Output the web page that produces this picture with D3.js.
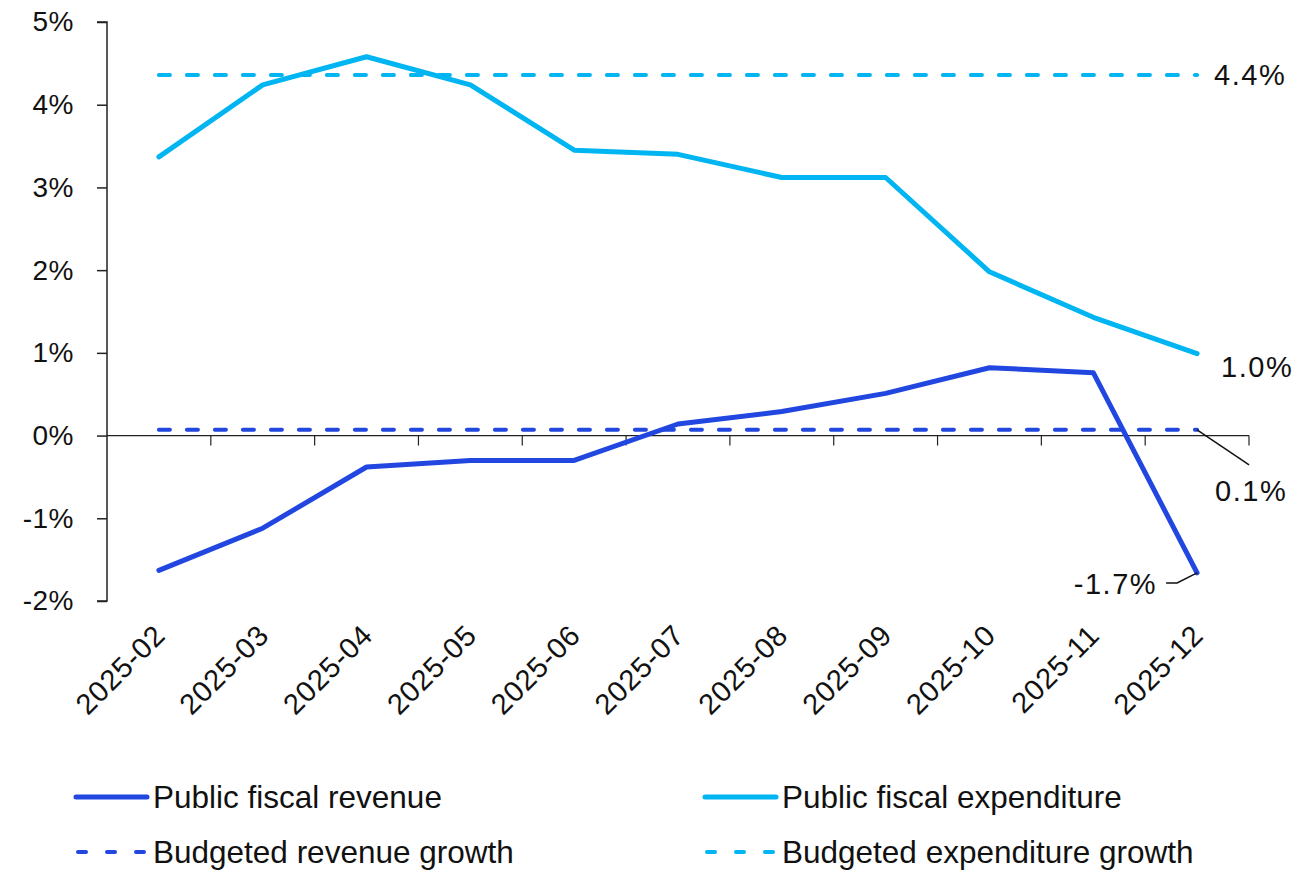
<!DOCTYPE html>
<html>
<head>
<meta charset="utf-8">
<script src="https://cdn.jsdelivr.net/npm/d3@7"></script>
<style>
  html, body { margin: 0; padding: 0; background: #fff; }
  svg { display: block; font-family: "Liberation Sans", Arial, sans-serif; }
</style>
</head>
<body>
<svg id="chart" width="1293" height="870"></svg>
<script>
// Monthly cumulative growth, % year on year
const months = ["2025-02","2025-03","2025-04","2025-05","2025-06","2025-07","2025-08","2025-09","2025-10","2025-11","2025-12"];
const revenue = [-1.63, -1.12, -0.38, -0.30, -0.30, 0.14, 0.29, 0.51, 0.82, 0.76, -1.66];
const expenditure = [3.37, 4.24, 4.58, 4.24, 3.45, 3.40, 3.12, 3.12, 1.98, 1.43, 0.99];
const budgetRevenue = 0.07;
const budgetExpenditure = 4.36;
const yTicks = [-2, -1, 0, 1, 2, 3, 4, 5];
const legendLabels = ["Public fiscal revenue", "Public fiscal expenditure", "Budgeted revenue growth", "Budgeted expenditure growth"];

const colRevenue = "#2147E0";
const colExpenditure = "#00B5F1";
const axisColor = "#222";
const textColor = "#111";

const svg = d3.select("#chart");
const plotLeft = 107, plotRight = 1249, plotTop = 22, plotBottom = 601;

const x = d3.scaleBand().domain(months).range([plotLeft, plotRight]);
const xc = d => x(d) + x.bandwidth() / 2;
const y = d3.scaleLinear().domain([-2, 5]).range([plotBottom, plotTop]);

// Y axis
const yAxis = svg.append("g")
  .attr("transform", `translate(${plotLeft},0)`)
  .call(d3.axisLeft(y).tickValues(yTicks).tickSize(10).tickPadding(23).tickFormat(d => d + "%"));
yAxis.select(".domain").attr("stroke", axisColor).attr("stroke-width", 1.5).attr("d", `M-10,${y(5)}H0V${y(-2)}H-10`);
yAxis.selectAll(".tick line").attr("stroke", axisColor).attr("stroke-width", 1.5);
yAxis.selectAll(".tick text").attr("fill", textColor).style("font-size", "28px").style("letter-spacing", "0.5px")
  .attr("font-family", "Liberation Sans, Arial, sans-serif");

// X axis along the zero line, ticks between categories
const xAxisG = svg.append("g").attr("transform", `translate(0,${y(0)})`);
xAxisG.append("line").attr("x1", plotLeft).attr("x2", plotRight).attr("stroke", axisColor).attr("stroke-width", 1.2);
xAxisG.selectAll("line.tk").data(months).join("line").attr("class", "tk")
  .attr("x1", d => x(d) + x.bandwidth()).attr("x2", d => x(d) + x.bandwidth())
  .attr("y1", 0).attr("y2", 10).attr("stroke", axisColor).attr("stroke-width", 1.2);

// Rotated month labels below the plot
svg.append("g").selectAll("text").data(months).join("text")
  .attr("transform", d => `translate(${xc(d) + 8},${plotBottom + 36}) rotate(-45)`)
  .attr("text-anchor", "end")
  .attr("fill", textColor)
  .style("font-size", "29px")
  .style("letter-spacing", "0.8px")
  .text(d => d);

// Budget lines
const dash = "11,17";
svg.append("line")
  .attr("x1", xc(months[0])).attr("x2", xc(months[months.length - 1]))
  .attr("y1", y(budgetExpenditure)).attr("y2", y(budgetExpenditure))
  .attr("stroke", colExpenditure).attr("stroke-width", 4).attr("stroke-linecap", "round").attr("stroke-dasharray", dash);
svg.append("line")
  .attr("x1", xc(months[0])).attr("x2", xc(months[months.length - 1]))
  .attr("y1", y(budgetRevenue)).attr("y2", y(budgetRevenue))
  .attr("stroke", colRevenue).attr("stroke-width", 4).attr("stroke-linecap", "round").attr("stroke-dasharray", dash);

// Actual series
const line = d3.line().x((d, i) => xc(months[i])).y(d => y(d));
svg.append("path").datum(expenditure).attr("d", line)
  .attr("fill", "none").attr("stroke", colExpenditure).attr("stroke-width", 5).attr("stroke-linejoin", "round").attr("stroke-linecap", "round");
svg.append("path").datum(revenue).attr("d", line)
  .attr("fill", "none").attr("stroke", colRevenue).attr("stroke-width", 5).attr("stroke-linejoin", "round").attr("stroke-linecap", "round");

// End labels
const fmt = v => d3.format(".1f")(v).replace("\u2212", "-") + "%";
const lastX = xc(months[months.length - 1]);
const labels = svg.append("g").attr("fill", textColor).style("font-size", "29px").style("letter-spacing", "1.5px");
labels.append("text").attr("x", lastX + 17).attr("y", y(budgetExpenditure)).attr("dy", "0.35em").text(fmt(budgetExpenditure));
labels.append("text").attr("x", lastX + 24).attr("y", y(expenditure[expenditure.length - 1]) + 13).attr("dy", "0.35em").text(fmt(expenditure[expenditure.length - 1]));
labels.append("text").attr("x", lastX + 18).attr("y", y(budgetRevenue) + 61).attr("dy", "0.35em").text(fmt(budgetRevenue));
const revLast = revenue[revenue.length - 1];
labels.append("text").attr("x", lastX - 40).attr("y", y(revLast) + 11).attr("dy", "0.35em").attr("text-anchor", "end").text(fmt(revLast));

// Leader lines
svg.append("path")
  .attr("d", `M${lastX},${y(budgetRevenue)}L${lastX + 52},${y(budgetRevenue) + 35}`)
  .attr("fill", "none").attr("stroke", "#111").attr("stroke-width", 1.5);
svg.append("path")
  .attr("d", `M${lastX - 31},${y(revLast) + 10}H${lastX - 20}L${lastX},${y(revLast)}`)
  .attr("fill", "none").attr("stroke", "#111").attr("stroke-width", 1.5);

// Legend
const legend = [
  { label: legendLabels[0], color: colRevenue, dashed: false, x: 76, y: 797 },
  { label: legendLabels[1], color: colExpenditure, dashed: false, x: 705, y: 797 },
  { label: legendLabels[2], color: colRevenue, dashed: true, x: 76, y: 852 },
  { label: legendLabels[3], color: colExpenditure, dashed: true, x: 705, y: 852 }
];
const lg = svg.append("g").selectAll("g").data(legend).join("g")
  .attr("transform", d => `translate(${d.x},${d.y})`);
lg.append("line").attr("x1", d => d.dashed ? 2 : 0).attr("x2", 71).attr("y1", 0).attr("y2", 0)
  .attr("stroke", d => d.color)
  .attr("stroke-width", d => d.dashed ? 4 : 5)
  .attr("stroke-linecap", "round")
  .attr("stroke-dasharray", d => d.dashed ? "8,21" : null);
lg.append("text").attr("x", 77).attr("dy", "0.35em").attr("fill", textColor).style("font-size", "31.5px").text(d => d.label);
</script>
</body>
</html>
